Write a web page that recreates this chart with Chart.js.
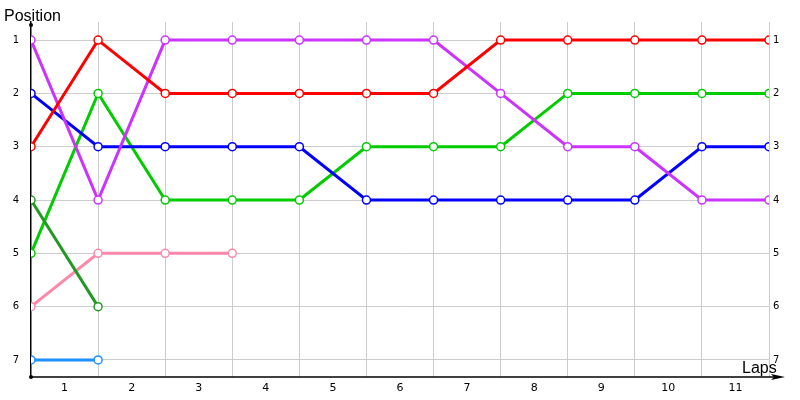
<!DOCTYPE html>
<html>
<head>
<meta charset="utf-8">
<script src="https://cdn.jsdelivr.net/npm/chart.js@4"></script>
<style>
  body { margin: 0; background: #fff; }
</style>
</head>
<body>
<canvas id="chart" width="800" height="400"></canvas>
<script>
// laps 0..11 are the grid points, labels sit between them
var laps = [0, 1, 2, 3, 4, 5, 6, 7, 8, 9, 10, 11]
var lapLabels = ['1', '2', '3', '4', '5', '6', '7', '8', '9', '10', '11']
var positions = [1, 2, 3, 4, 5, 6, 7]

var redPos = [3, 1, 2, 2, 2, 2, 2, 1, 1, 1, 1, 1]
var purplePos = [1, 4, 1, 1, 1, 1, 1, 2, 3, 3, 4, 4]
var bluePos = [2, 3, 3, 3, 3, 4, 4, 4, 4, 4, 3, 3]
var greenPos = [5, 2, 4, 4, 4, 3, 3, 3, 2, 2, 2, 2]
var darkGreenPos = [4, 6]
var pinkPos = [6, 5, 5, 5]
var skyPos = [7, 7]

function series(vals, color) {
    return {
        data: vals.map(function(v, i) { return {x: laps[i], y: v} }),
        borderColor: color,
        backgroundColor: '#ffffff',
        pointBackgroundColor: '#ffffff',
        pointBorderColor: color,
        pointBorderWidth: 1.5,
        pointRadius: 4,
        borderWidth: 3,
        tension: 0,
    }
}

// axes decorations and axis titles
var decor = {
    id: 'decor',
    afterDraw: function(chart) {
        var ctx = chart.ctx
        var a = chart.chartArea
        ctx.save()
        ctx.fillStyle = '#000'
        ctx.strokeStyle = '#000'
        ctx.lineWidth = 1.5
        ctx.beginPath()
        ctx.moveTo(a.left, a.bottom)
        ctx.lineTo(a.right + 8, a.bottom)
        ctx.stroke()
        ctx.beginPath()
        ctx.moveTo(a.right + 16, a.bottom)
        ctx.lineTo(a.right + 2, a.bottom - 3)
        ctx.lineTo(a.right + 5, a.bottom)
        ctx.lineTo(a.right + 2, a.bottom + 3)
        ctx.closePath()
        ctx.fill()
        ctx.beginPath()
        ctx.arc(a.left, a.bottom, 2, 0, 2 * Math.PI)
        ctx.fill()
        ctx.beginPath()
        ctx.arc(a.left, a.top + 3, 2, 0, 2 * Math.PI)
        ctx.fill()
        ctx.font = '16px "Liberation Sans"'
        ctx.textBaseline = 'alphabetic'
        ctx.textAlign = 'left'
        ctx.fillText('Position', 4, 21)
        ctx.fillText('Laps', 742, 373)
        ctx.restore()
    }
}

var xTicks = []
for (let v = 0; v <= 11; v += 0.5) xTicks.push({value: v})

var yTickFont = {family: 'DejaVu Sans', size: 10}

new Chart(document.getElementById('chart'), {
    type: 'line',
    data: {
        datasets: [
            series(darkGreenPos, '#229922'),
            series(redPos, '#ff0000'),
            series(purplePos, '#cc33ff'),
            series(bluePos, '#0000ff'),
            series(greenPos, '#00cc00'),
            series(pinkPos, '#ff88aa'),
            series(skyPos, '#1e90ff'),
        ],
    },
    options: {
        responsive: false,
        animation: false,
        devicePixelRatio: 1,
        layout: {padding: {top: 22, left: 0, right: 0, bottom: 0}},
        plugins: {legend: {display: false}, tooltip: {enabled: false}},
        scales: {
            x: {
                type: 'linear',
                min: 0,
                max: 11,
                afterBuildTicks: function(scale) { scale.ticks = xTicks.slice() },
                afterFit: function(scale) { scale.height = 23 },
                border: {display: false},
                grid: {
                    drawTicks: false,
                    lineWidth: 1,
                    color: function(c) {
                        var v = c.tick ? c.tick.value : 0
                        return (v > 0 && v % 1 === 0) ? '#cccccc' : 'rgba(0,0,0,0)'
                    },
                },
                ticks: {
                    autoSkip: false,
                    maxRotation: 0,
                    padding: 5,
                    color: '#000',
                    font: {family: 'DejaVu Sans', size: 11},
                    callback: function(value) {
                        return (value % 1 === 0.5) ? lapLabels[value - 0.5] : ''
                    },
                },
            },
            y: {
                type: 'linear',
                position: 'left',
                reverse: true,
                min: 0.66,
                max: 7.32,
                afterBuildTicks: function(scale) {
                    scale.ticks = positions.map(function(p) { return {value: p} })
                },
                afterFit: function(scale) { scale.width = 31 },
                border: {display: true, color: '#000', width: 1.5},
                grid: {drawTicks: false, color: '#cccccc', lineWidth: 1},
                ticks: {
                    padding: 12,
                    color: '#000',
                    font: yTickFont,
                    callback: function(value) { return String(value) },
                },
            },
            y2: {
                type: 'linear',
                position: 'right',
                reverse: true,
                min: 0.66,
                max: 7.32,
                afterBuildTicks: function(scale) {
                    scale.ticks = positions.map(function(p) { return {value: p} })
                },
                afterFit: function(scale) { scale.width = 31 },
                border: {display: false},
                grid: {display: false, drawTicks: false},
                ticks: {
                    padding: 4,
                    color: '#000',
                    font: yTickFont,
                    callback: function(value) { return String(value) },
                },
            },
        },
    },
    plugins: [decor],
})
</script>
</body>
</html>
